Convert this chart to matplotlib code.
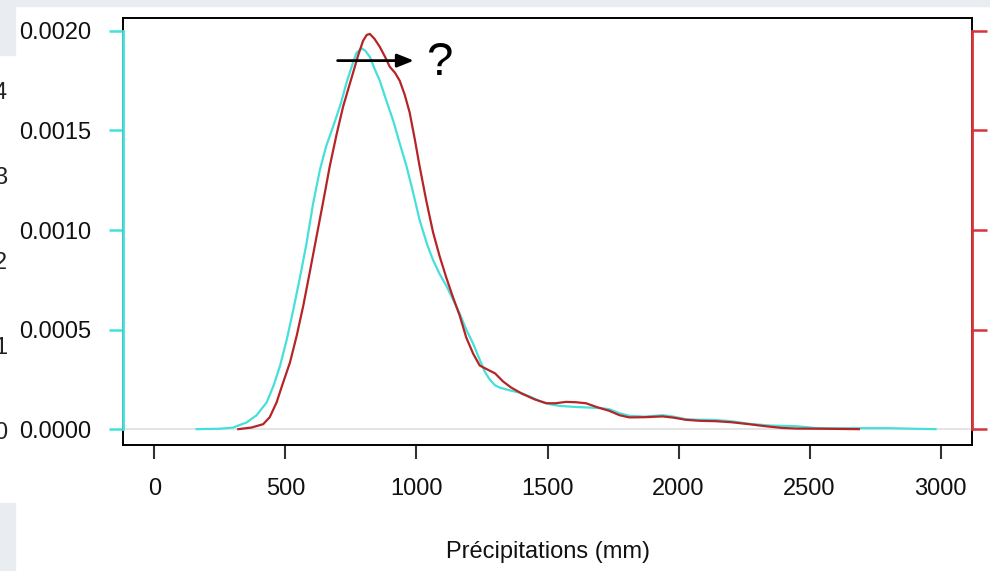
import matplotlib
matplotlib.use("Agg")
import matplotlib.pyplot as plt
from matplotlib.lines import Line2D
from matplotlib.patches import Rectangle

plt.rcParams['font.family'] = ['Liberation Sans', 'DejaVu Sans']

# Density estimates of annual precipitation (mm) for two periods
x_cyan = [161, 250, 300, 352, 390, 428, 455, 479, 505, 530, 555, 580, 605, 631,
          655, 682, 710, 733, 755, 771, 790, 805, 822, 840, 860, 885, 911, 935,
          962, 985, 1012, 1040, 1063, 1088, 1114, 1140, 1165, 1190, 1216, 1241,
          1260, 1279, 1300, 1317, 1355, 1393, 1430, 1469, 1510, 1546, 1600,
          1647, 1700, 1736, 1775, 1812, 1870, 1939, 1980, 2028, 2080, 2129,
          2200, 2269, 2350, 2447, 2520, 2600, 2700, 2800, 2900, 2981]
y_cyan = [0.0, 0.000002, 0.000008, 0.000034, 0.00007, 0.000134, 0.00022,
          0.000317, 0.00045, 0.0006, 0.00076, 0.00093, 0.00113, 0.0013,
          0.00142, 0.00152, 0.00163, 0.00174, 0.00183, 0.00189, 0.001913,
          0.0019, 0.00187, 0.00181, 0.00175, 0.00165, 0.00155, 0.00144,
          0.00132, 0.0012, 0.00105, 0.00093, 0.00085, 0.00078, 0.00072,
          0.00065, 0.00058, 0.0005, 0.00043, 0.00035, 0.00029, 0.00025,
          0.00022, 0.000209, 0.000195, 0.000184, 0.000165, 0.000142,
          0.000125, 0.000117, 0.000112, 0.000109, 0.000106, 0.0001, 0.00008,
          0.000067, 0.000063, 0.00007, 0.000063, 0.00005, 0.000047, 0.000047,
          0.00004, 0.000027, 0.000018, 0.000015, 0.000006, 0.000004,
          0.000005, 0.000005, 0.000002, 0.0]

x_red = [320, 370, 415, 440, 466, 490, 517, 543, 568, 593, 619, 645, 669, 695,
         720, 740, 758, 778, 796, 810, 822, 840, 860, 880, 898, 918, 936, 955,
         974, 993, 1012, 1037, 1063, 1088, 1114, 1140, 1165, 1190, 1216, 1241,
         1270, 1300, 1330, 1360, 1400, 1450, 1495, 1530, 1571, 1610, 1647,
         1690, 1736, 1775, 1812, 1870, 1939, 1980, 2028, 2080, 2142, 2200,
         2269, 2330, 2396, 2450, 2550, 2688]
y_red = [0.0, 0.000008, 0.000025, 0.00006, 0.000134, 0.00023, 0.000334,
         0.00047, 0.00062, 0.00079, 0.00097, 0.00115, 0.00132, 0.00148,
         0.00162, 0.00171, 0.00179, 0.00188, 0.00195, 0.00198, 0.001985,
         0.00196, 0.00192, 0.00187, 0.00182, 0.00179, 0.00175, 0.00168,
         0.00159, 0.00146, 0.00132, 0.00115, 0.00099, 0.00087, 0.00076,
         0.00066, 0.00057, 0.00046, 0.00038, 0.00032, 0.0003, 0.00028,
         0.00024, 0.00021, 0.00018, 0.00015, 0.00013, 0.00013, 0.000137,
         0.000135, 0.00013, 0.00011, 0.000092, 0.00007, 0.000059, 0.00006,
         0.000064, 0.000058, 0.000047, 0.000042, 0.00004, 0.000035,
         0.000025, 0.000015, 0.000006, 0.000003, 0.000002, 0.0]

x_ticks = [0, 500, 1000, 1500, 2000, 2500, 3000]
y_ticks = [0.0, 0.0005, 0.0010, 0.0015, 0.0020]
y_ticklabels = ["0.0000", "0.0005", "0.0010", "0.0015", "0.0020"]
side_labels = ["0", "1", "2", "3", "4"]

CYAN = "#45e0da"
RED_LINE = "#b52427"
RED_AXIS = "#d8343a"
BG = "#e9edf1"
FS = 17

W, H = 990, 571
fig = plt.figure(figsize=(W / 100, H / 100), dpi=100)
fig.patch.set_facecolor("white")

# light page background pieces around the white panel
for (x0, y0, w, h) in [(0, 0, W, 6), (0, 0, 15, 55), (0, 503, 15, H - 503)]:
    fig.patches.append(Rectangle((x0 / W, 1 - (y0 + h) / H), w / W, h / H,
                                 transform=fig.transFigure, color=BG, zorder=0))

# partially visible labels of a neighbouring axis
for i, lab in enumerate(side_labels):
    ypix = 433 - 85 * i
    fig.text(7 / W, 1 - ypix / H, lab, ha="right", va="center", fontsize=FS,
             color="#222222")

L, R, T, B = 123, 972, 18, 445
ax = fig.add_axes([L / W, 1 - B / H, (R - L) / W, (B - T) / H])
ax.set_xlim(-120, 3120)
ax.set_ylim(-0.0000796, 0.002065)

ax.axhline(0, color="#e2e2e2", lw=1.3, zorder=1)
ax.plot(x_cyan, y_cyan, color=CYAN, lw=1.6, zorder=3)
ax.plot(x_red, y_red, color=RED_LINE, lw=1.6, zorder=4)

for s in ax.spines.values():
    s.set_color("black")
    s.set_linewidth(1.4)

ax.set_xticks(x_ticks)
ax.set_xticklabels([str(v) for v in x_ticks])
ax.tick_params(axis="x", length=10, width=1.5, color="#333333", pad=14,
               labelsize=FS, labelcolor="#111111")
ax.set_yticks(y_ticks)
ax.set_yticklabels(y_ticklabels)
ax.tick_params(axis="y", length=10, width=1.8, color=CYAN, pad=13,
               labelsize=FS, labelcolor="#111111")

# coloured axis lines over the data range on both sides
ax.add_line(Line2D([0, 0], [0, 0.002], color=CYAN, lw=2.0,
                   transform=ax.get_yaxis_transform(), clip_on=False, zorder=5))
ax.add_line(Line2D([1, 1], [0, 0.002], color=RED_AXIS, lw=2.0,
                   transform=ax.get_yaxis_transform(), clip_on=False, zorder=5))

ax2 = ax.twinx()
ax2.set_ylim(ax.get_ylim())
ax2.set_yticks(y_ticks)
ax2.tick_params(axis="y", length=11, width=1.8, color=RED_AXIS,
                labelright=False)
for s in ax2.spines.values():
    s.set_visible(False)

# arrow with question mark near the peaks
ax.annotate("", xy=(990, 0.001851), xytext=(699, 0.001851),
            arrowprops=dict(arrowstyle="-|>,head_length=1.0,head_width=0.4",
                            color="black", lw=2.0, shrinkA=0, shrinkB=0),
            zorder=6)
ax.text(1085, 0.001838, "?", fontsize=34, ha="center", va="center",
        color="black")

fig.text(547.5 / W, 1 - 558 / H, "Précipitations (mm)", ha="center",
         va="baseline", fontsize=FS, color="#111111")

fig.savefig("out.png", dpi=100)
